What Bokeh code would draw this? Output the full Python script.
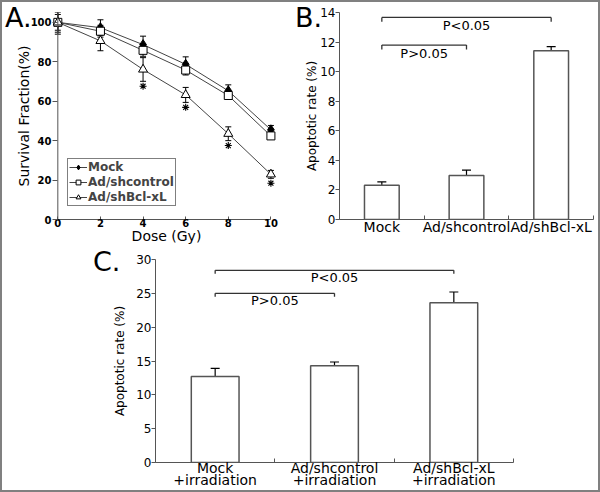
from bokeh.plotting import figure
from bokeh.layouts import column, row
from bokeh.models import (ColumnDataSource, Whisker, TeeHead, Legend, LegendItem,
                          FixedTicker, Range1d, Span, Div)
from bokeh.embed import file_html
from bokeh.resources import INLINE
from bokeh.core.properties import value

FONT = "DejaVu Sans"

# ---------------- Panel A data ----------------
doses = [0, 2, 4, 6, 8, 10]
mock_surv = [100, 97.3, 88.7, 78.7, 65.3, 45.5]
mock_err = [5.0, 4.0, 4.3, 3.8, 3.0, 2.2]
ctrl_surv = [100, 95.5, 85.8, 75.8, 62.9, 42.4]
ctrl_err = [4.0, 3.0, 3.0, 2.5, 2.0, 1.5]
bcl_surv = [100, 90.6, 76.1, 63.2, 43.5, 22.9]
bcl_err = [6.0, 5.0, 6.0, 3.8, 3.5, 2.0]
bcl_significant = [False, False, True, True, True, True]
series_names = ["Mock", "Ad/shcontrol", "Ad/shBcl-xL"]
dose_ticks = [0, 2, 4, 6, 8, 10]
surv_ticks = [0, 20, 40, 60, 80, 100]

# ---------------- Panel B data ----------------
b_categories = ["Mock", "Ad/shcontrol", "Ad/shBcl-xL"]
b_rates = [2.32, 2.98, 11.42]
b_errs = [0.22, 0.36, 0.27]
b_ticks = [0, 2, 4, 6, 8, 10, 12, 14]
b_br_from = [0, 0]
b_br_to = [1, 2]
b_br_y = [11.8, 13.67]
b_br_text = ["P>0.05", "P<0.05"]

# ---------------- Panel C data ----------------
c_categories = ["Mock\n+irradiation", "Ad/shcontrol\n+irradiation", "Ad/shBcl-xL\n+irradiation"]
c_rates = [12.7, 14.3, 23.6]
c_errs = [1.2, 0.55, 1.6]
c_ticks = [0, 5, 10, 15, 20, 25, 30]
c_br_from = [0, 0]
c_br_to = [1, 2]
c_br_y = [25.0, 28.4]
c_br_text = ["P>0.05", "P<0.05"]

AX = "#555555"


def base_fig(w, h, xr, yr, mb):
    p = figure(width=w, height=h, x_range=xr, y_range=yr, output_backend="svg",
               toolbar_location=None, min_border_left=mb[0], min_border_right=mb[1],
               min_border_top=mb[2], min_border_bottom=mb[3])
    p.grid.visible = False
    p.outline_line_color = None
    p.background_fill_color = "white"
    p.border_fill_color = "white"
    for ax in (p.xaxis[0], p.yaxis[0]):
        ax.axis_line_color = AX
        ax.major_tick_line_color = AX
        ax.minor_tick_line_color = None
        ax.major_label_text_font = FONT
        ax.axis_label_text_font = FONT
        ax.axis_label_text_font_style = "normal"
        ax.axis_label_text_color = "black"
        ax.major_label_text_color = "black"
    return p


# ================= Panel A =================
pA = base_fig(288, 246, Range1d(-0.25, 10.45), Range1d(0, 105), (50, 10, 1, 28))
pA.xaxis.bounds = (0, 10)
pA.xaxis.ticker = FixedTicker(ticks=dose_ticks)
pA.yaxis.ticker = FixedTicker(ticks=surv_ticks)
pA.xaxis.major_tick_in = 3
pA.xaxis.major_tick_out = 0
pA.yaxis.axis_line_color = None
pA.yaxis.major_tick_in = 5
pA.yaxis.major_tick_out = 0
for ax in (pA.xaxis[0], pA.yaxis[0]):
    ax.major_label_text_font_size = "10px"
    ax.major_label_text_font_style = "bold"
    ax.axis_label_text_font_size = "14px"
pA.xaxis.major_label_standoff = -1
pA.yaxis.major_label_standoff = 1
pA.xaxis.axis_label = "Dose (Gy)"
pA.xaxis.axis_label_standoff = -2
pA.yaxis.axis_label = "Survival Fraction(%)"
pA.yaxis.axis_label_standoff = -4
pA.add_layout(Span(location=0, dimension="height", line_color=AX, line_width=1))

srcA = ColumnDataSource(dict(
    x=doses, mock=mock_surv, ctrl=ctrl_surv, bcl=bcl_surv,
    mock_lo=[v - e for v, e in zip(mock_surv, mock_err)],
    mock_hi=[v + e for v, e in zip(mock_surv, mock_err)],
    ctrl_lo=[v - e for v, e in zip(ctrl_surv, ctrl_err)],
    ctrl_hi=[v + e for v, e in zip(ctrl_surv, ctrl_err)],
    bcl_lo=[v - e for v, e in zip(bcl_surv, bcl_err)],
    bcl_hi=[v + e for v, e in zip(bcl_surv, bcl_err)],
))
for key in ("mock", "ctrl", "bcl"):
    pA.add_layout(Whisker(source=srcA, base="x", lower=key + "_lo", upper=key + "_hi",
                          line_color="black", line_width=1,
                          upper_head=TeeHead(size=6, line_color="black", line_width=1),
                          lower_head=TeeHead(size=6, line_color="black", line_width=1)))

LC = "#444444"
l1 = pA.line("x", "mock", source=srcA, line_color=LC, line_width=1)
s1 = pA.scatter("x", "mock", source=srcA, marker="diamond", size=10,
                fill_color="black", line_color="black")
l2 = pA.line("x", "ctrl", source=srcA, line_color=LC, line_width=1)
s2 = pA.scatter("x", "ctrl", source=srcA, marker="square", size=8,
                fill_color="white", line_color="black")
l3 = pA.line("x", "bcl", source=srcA, line_color=LC, line_width=1)
s3 = pA.scatter("x", "bcl", source=srcA, marker="triangle", size=9,
                fill_color="white", line_color="black")

sig_x = [d for d, s in zip(doses, bcl_significant) if s]
sig_y = [v - e - 2.5 for v, e, s in zip(bcl_surv, bcl_err, bcl_significant) if s]
pA.scatter(sig_x, sig_y, marker="asterisk", size=7, line_color="black", line_width=1.1)

legA = Legend(items=[LegendItem(label=series_names[0], renderers=[l1, s1]),
                     LegendItem(label=series_names[1], renderers=[l2, s2]),
                     LegendItem(label=series_names[2], renderers=[l3, s3])],
              location=(15, 13), orientation="vertical",
              label_text_font=FONT, label_text_font_size="12px", label_text_font_style="bold",
              label_height=12, glyph_height=12, glyph_width=18, label_standoff=1,
              spacing=1, padding=1, margin=0,
              border_line_color="black", border_line_width=1,
              background_fill_color="white", background_fill_alpha=1)
pA.add_layout(legA)


# ================= bar panels =================
def bar_panel(w, h, mb, cats, rates, errs, yticks, ymax, bw, br_from, br_to, br_y, br_text,
              drop, txt_off, ylabel_standoff, xlab_standoff, line_h):
    p = base_fig(w, h, Range1d(0, 3), Range1d(0, ymax), mb)
    centers = [i + 0.5 for i in range(len(cats))]
    p.xaxis.ticker = FixedTicker(ticks=centers, minor_ticks=[0, 1, 2, 3])
    p.xaxis.major_label_overrides = {c: lab for c, lab in zip(centers, cats)}
    p.xaxis.major_tick_line_color = None
    p.xaxis.minor_tick_line_color = AX
    p.xaxis.minor_tick_in = 4
    p.xaxis.minor_tick_out = 0
    p.xaxis.major_label_text_font_size = "14px"
    p.xaxis.major_label_text_line_height = line_h
    p.xaxis.major_label_standoff = xlab_standoff
    p.yaxis.ticker = FixedTicker(ticks=yticks)
    p.yaxis.major_tick_in = 0
    p.yaxis.major_tick_out = 4
    p.yaxis.major_label_standoff = 0
    p.yaxis.major_label_text_font_size = "12px"
    p.yaxis.axis_label = "Apoptotic rate (%)"
    p.yaxis.axis_label_text_font_size = "12px"
    p.yaxis.axis_label_standoff = ylabel_standoff

    src = ColumnDataSource(dict(x=centers, top=rates,
                                upper=[r + e for r, e in zip(rates, errs)]))
    p.vbar(x="x", top="top", width=bw, source=src, fill_color="white",
           line_color="#555555", line_width=1.5)
    p.add_layout(Whisker(source=src, base="x", lower="top", upper="upper",
                         line_color="black", line_width=1.2,
                         upper_head=TeeHead(size=9, line_color="black", line_width=1.2),
                         lower_head=None))

    x0 = [a + 0.5 for a in br_from]
    x1 = [b + 0.5 for b in br_to]
    p.segment(x0=x0, y0=br_y, x1=x1, y1=br_y, line_color="#333333", line_width=1.3)
    p.segment(x0=x0, y0=br_y, x1=x0, y1=[y - drop for y in br_y],
              line_color="#333333", line_width=1.3)
    p.segment(x0=x1, y0=br_y, x1=x1, y1=[y - drop for y in br_y],
              line_color="#333333", line_width=1.3)
    p.text(x=[(a + b) / 2 for a, b in zip(x0, x1)], y=br_y, text=br_text,
           text_font=value(FONT), text_font_size="13px", text_align="center",
           text_baseline="top", y_offset=txt_off, text_color="black")
    return p


pB = bar_panel(308, 246, (49, 5, 10, 29), b_categories, b_rates, b_errs, b_ticks, 14, 0.41,
               b_br_from, b_br_to, b_br_y, b_br_text, 0.3, 1, -2, -7, 1.2)

pC = bar_panel(596, 242, (153, 85, 11, 25), c_categories, c_rates, c_errs, c_ticks, 30, 0.40,
               c_br_from, c_br_to, c_br_y, c_br_text, 0.5, 0, 6, -9, 0.75)


def letter(txt, left, top):
    return Div(text=txt, width=40, height=34,
               styles={"position": "absolute", "left": f"{left}px", "top": f"{top}px",
                       "font-family": FONT, "font-size": "27px", "line-height": "1",
                       "color": "black", "z-index": "10"})


layout = column(row(pA, pB), pC,
                letter("A.", -2, -3), letter("B.", 288, -3), letter("C.", 86, 241),
                styles={"border": "2px solid #808080", "position": "relative"})

open("out.html", "w").write(file_html(layout, INLINE))
